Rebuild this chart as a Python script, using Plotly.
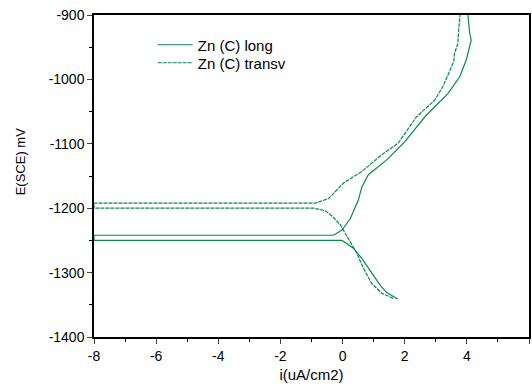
import plotly.graph_objects as go

# Zn (C) long  (solid)
long_i = [1.77, 1.42, 1.2, 0.94, 0.62, 0.35, 0.15, -0.02, -8.0,
          -8.0, -0.29, -0.02, 0.25, 0.51, 0.62, 0.83, 1.42, 2.0, 2.65, 2.97, 3.39, 3.77, 3.98, 4.14, 4.09, 4.05, 4.03]
long_E = [-1341, -1331, -1319, -1301, -1278, -1262, -1255, -1250, -1250,
          -1242, -1242, -1234, -1216, -1187, -1167, -1148, -1125, -1097, -1058, -1042, -1022, -996, -970, -939, -928, -908, -895]

# Zn (C) transv  (dotted)
transv_i = [1.63, 1.26, 0.94, 0.67, 0.46, 0.19, -0.07, -0.3, -0.55, -0.93, -8.0,
            -8.0, -0.87, -0.45, 0.03, 0.19, 0.62, 1.26, 1.79, 2.38, 2.75, 2.97, 3.23, 3.5, 3.58, 3.6, 3.71, 3.73, 3.77, 3.79]
transv_E = [-1340, -1332, -1317, -1293, -1270, -1247, -1226, -1214, -1204, -1200, -1200,
            -1192, -1192, -1185, -1161, -1156, -1143, -1117, -1099, -1058, -1042, -1032, -1011, -980, -972, -960, -944, -928, -908, -895]

x_ticks = [-8, -6, -4, -2, 0, 2, 4, 6]
x_labels = ["-8", "-6", "-4", "-2", "0", "2", "4", "6"]
y_ticks = [-1400, -1300, -1200, -1100, -1000, -900]
y_labels = ["-1400", "-1300", "-1200", "-1100", "-1000", "-900"]

color = "#0a8a4a"
fig = go.Figure()
fig.add_trace(go.Scatter(x=long_i, y=long_E, mode="lines", name="Zn (C) long",
                         line=dict(color=color, width=1.2), legend="legend"))
fig.add_trace(go.Scatter(x=transv_i, y=transv_E, mode="lines", name="Zn (C) transv",
                         line=dict(color=color, width=1.2, dash="4px,1px"), legend="legend2"))

font = dict(family="Liberation Sans, Arial, sans-serif", size=14, color="black")
L, R, T, B = 94, 1, 15, 49
W, H = 532, 386
pw, ph = W - L - R, H - T - B

def leg(ycenter):
    return dict(x=(153 - L) / pw, y=1 - (ycenter - T) / ph, xanchor="left", yanchor="middle",
                bgcolor="rgba(0,0,0,0)", font=dict(size=15), itemwidth=35,
                borderwidth=0)

fig.update_layout(
    width=W, height=H,
    margin=dict(l=L, r=R, t=T, b=B),
    paper_bgcolor="white", plot_bgcolor="white",
    font=font,
    showlegend=True,
    legend=leg(45),
    legend2=leg(63),
    xaxis=dict(range=[-8, 6], tickvals=x_ticks, ticktext=x_labels, ticks="outside", ticklen=5, tickwidth=1,
               showline=True, linecolor="black", linewidth=1.5, mirror=True,
               showgrid=False, zeroline=False,
               minor=dict(dtick=1, ticks="outside", ticklen=3, tickcolor="black"),
               title=dict(text="i(uA/cm2)", standoff=7, font=dict(size=15))),
    yaxis=dict(range=[-1400, -900], tickvals=y_ticks, ticktext=y_labels, ticks="outside", ticklen=5, tickwidth=1,
               showline=True, linecolor="black", linewidth=1.5, mirror=True,
               showgrid=False, zeroline=False,
               minor=dict(dtick=50, ticks="outside", ticklen=3, tickcolor="black")),
    annotations=[dict(text="E(SCE) mV", textangle=-90, showarrow=False,
                      xref="paper", yref="paper", x=(20 - L) / pw, y=1 - (161 - T) / ph,
                      xanchor="center", yanchor="middle", font=dict(size=13))],
)
fig.write_html("out.html")
